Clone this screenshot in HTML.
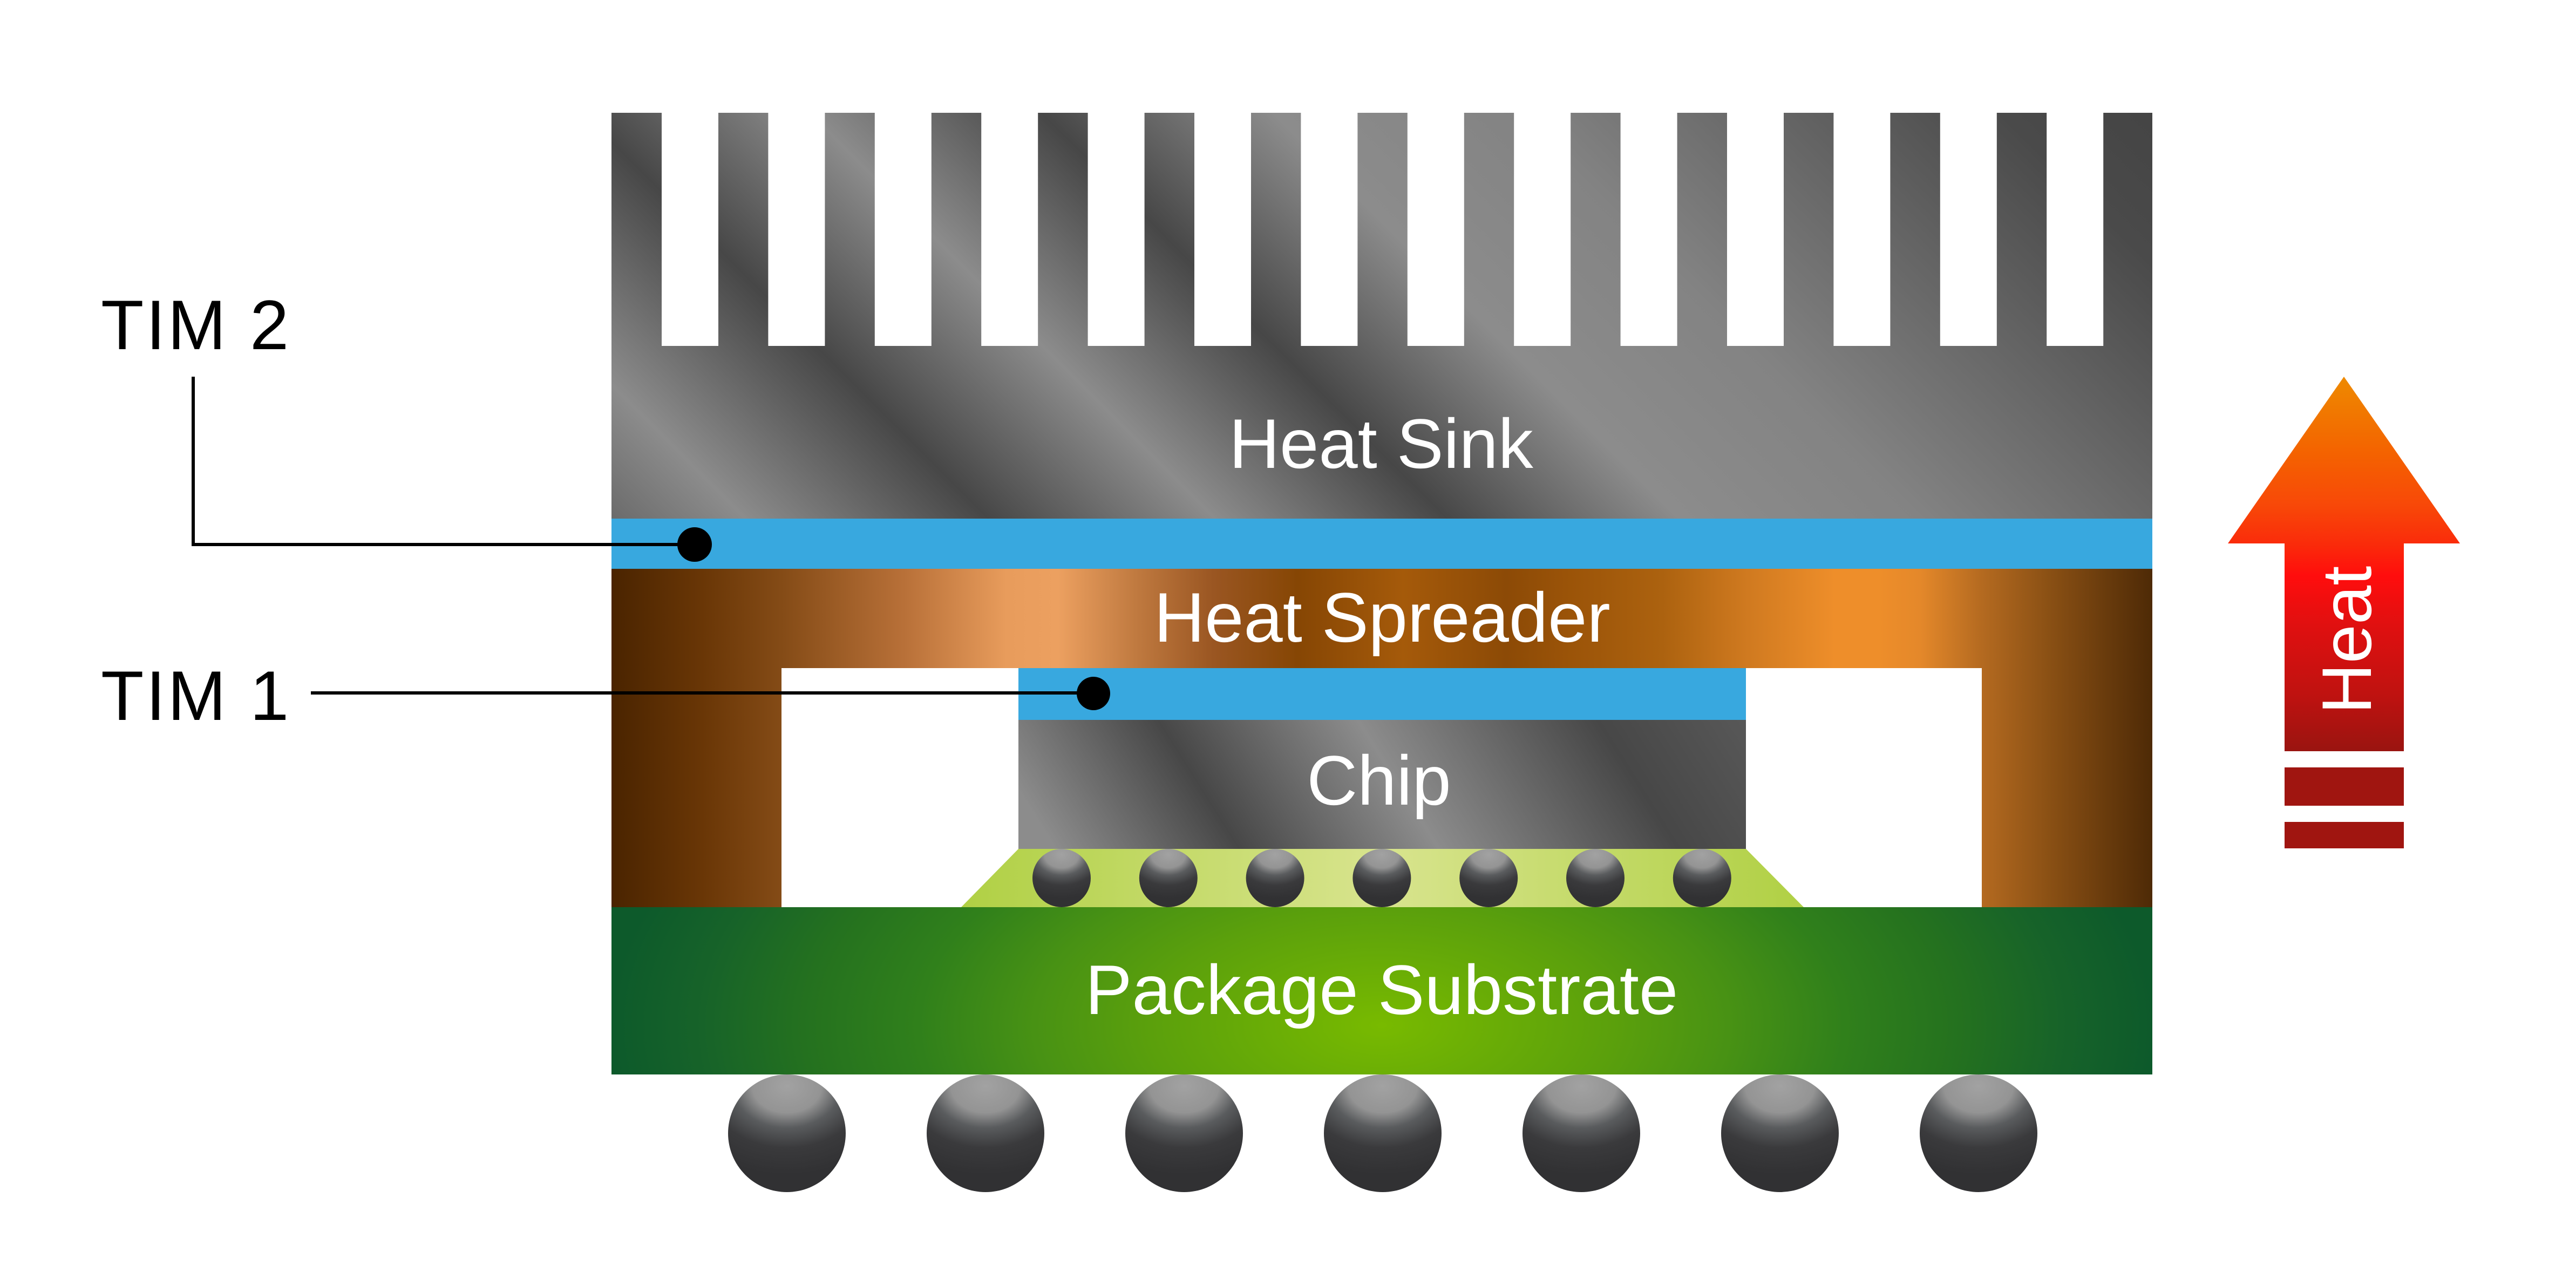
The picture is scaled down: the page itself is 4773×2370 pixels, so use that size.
<!DOCTYPE html>
<html>
<head>
<meta charset="utf-8">
<style>
html,body{margin:0;padding:0;background:#fff;width:4773px;height:2370px;overflow:hidden}
svg{display:block}
text{font-family:"Liberation Sans",Arial,sans-serif}
</style>
</head>
<body>
<svg width="4773" height="2370" viewBox="0 0 4773 2370" xmlns="http://www.w3.org/2000/svg">
<defs>
  <linearGradient id="hs" gradientUnits="userSpaceOnUse" x1="-100" y1="0" x2="1850" y2="-1950">
    <stop offset="0" stop-color="#474747"/>
    <stop offset="0.1333" stop-color="#8c8c8c"/>
    <stop offset="0.2487" stop-color="#474747"/>
    <stop offset="0.3564" stop-color="#8c8c8c"/>
    <stop offset="0.4667" stop-color="#474747"/>
    <stop offset="0.5769" stop-color="#8c8c8c"/>
    <stop offset="0.6923" stop-color="#838383"/>
    <stop offset="0.7949" stop-color="#6a6a6a"/>
    <stop offset="0.9231" stop-color="#4a4a4a"/>
    <stop offset="1" stop-color="#444444"/>
  </linearGradient>
  <linearGradient id="chip" gradientUnits="userSpaceOnUse" x1="900" y1="0" x2="2045.4" y2="-721.6">
    <stop offset="0" stop-color="#8c8c8c"/>
    <stop offset="0.04" stop-color="#8c8c8c"/>
    <stop offset="0.253" stop-color="#474747"/>
    <stop offset="0.484" stop-color="#8c8c8c"/>
    <stop offset="0.761" stop-color="#474747"/>
    <stop offset="1" stop-color="#5e5e5e"/>
  </linearGradient>
  <linearGradient id="sp" gradientUnits="userSpaceOnUse" x1="1133" y1="0" x2="3988" y2="0">
    <stop offset="0" stop-color="#4a2400"/>
    <stop offset="0.0585" stop-color="#693606"/>
    <stop offset="0.110" stop-color="#844b16"/>
    <stop offset="0.1895" stop-color="#b87038"/>
    <stop offset="0.2564" stop-color="#e89c5c"/>
    <stop offset="0.290" stop-color="#eca060"/>
    <stop offset="0.340" stop-color="#c07a40"/>
    <stop offset="0.3905" stop-color="#9a5622"/>
    <stop offset="0.4452" stop-color="#864604"/>
    <stop offset="0.5138" stop-color="#a55a0a"/>
    <stop offset="0.5807" stop-color="#8c4a06"/>
    <stop offset="0.619" stop-color="#9a5308"/>
    <stop offset="0.682" stop-color="#ac620f"/>
    <stop offset="0.7377" stop-color="#d07a20"/>
    <stop offset="0.794" stop-color="#ee8e2a"/>
    <stop offset="0.8214" stop-color="#ee8e2a"/>
    <stop offset="0.8494" stop-color="#e4882a"/>
    <stop offset="0.8893" stop-color="#b46a20"/>
    <stop offset="0.9331" stop-color="#8a5014"/>
    <stop offset="1" stop-color="#4e2a06"/>
  </linearGradient>
  <radialGradient id="sub" gradientUnits="userSpaceOnUse" cx="2560" cy="1900" r="1430" gradientTransform="translate(0,950) scale(1,0.5)">
    <stop offset="0" stop-color="#78ba00"/>
    <stop offset="0.3" stop-color="#5ba00c"/>
    <stop offset="0.45" stop-color="#489214"/>
    <stop offset="0.6" stop-color="#30801b"/>
    <stop offset="0.75" stop-color="#24711f"/>
    <stop offset="0.88" stop-color="#176329"/>
    <stop offset="1" stop-color="#0d5a2b"/>
  </radialGradient>
  <linearGradient id="uf" gradientUnits="userSpaceOnUse" x1="1781" y1="0" x2="3342" y2="0">
    <stop offset="0" stop-color="#b0d044"/>
    <stop offset="0.5" stop-color="#d8e48e"/>
    <stop offset="1" stop-color="#b0d044"/>
  </linearGradient>
  <radialGradient id="ball" cx="0.5" cy="0.1" r="0.75" fx="0.5" fy="0.1" gradientTransform="translate(0.5 0.1) scale(1.3 1) translate(-0.5 -0.1)">
    <stop offset="0" stop-color="#a2a2a2"/>
    <stop offset="0.3" stop-color="#949494"/>
    <stop offset="0.47" stop-color="#5a5c5e"/>
    <stop offset="0.7" stop-color="#3a3a3c"/>
    <stop offset="1" stop-color="#313133"/>
  </radialGradient>
  <linearGradient id="arr" gradientUnits="userSpaceOnUse" x1="0" y1="698" x2="0" y2="1392">
    <stop offset="0" stop-color="#ee8a00"/>
    <stop offset="0.206" stop-color="#f46200"/>
    <stop offset="0.344" stop-color="#f84808"/>
    <stop offset="0.444" stop-color="#fa2c0a"/>
    <stop offset="0.532" stop-color="#ff0d0d"/>
    <stop offset="0.664" stop-color="#e01010"/>
    <stop offset="0.85" stop-color="#bf1210"/>
    <stop offset="1" stop-color="#9a1410"/>
  </linearGradient>
</defs>

<!-- Heat sink -->
<rect x="1133" y="209" width="2855" height="752" fill="url(#hs)"/>
<g fill="#ffffff">
  <rect x="1226" y="200" width="105" height="441"/>
  <rect x="1423.4" y="200" width="105" height="441"/>
  <rect x="1620.8" y="200" width="105" height="441"/>
  <rect x="1818.2" y="200" width="105" height="441"/>
  <rect x="2015.6" y="200" width="105" height="441"/>
  <rect x="2213" y="200" width="105" height="441"/>
  <rect x="2410.4" y="200" width="105" height="441"/>
  <rect x="2607.8" y="200" width="105" height="441"/>
  <rect x="2805.2" y="200" width="105" height="441"/>
  <rect x="3002.6" y="200" width="105" height="441"/>
  <rect x="3200" y="200" width="105" height="441"/>
  <rect x="3397.4" y="200" width="105" height="441"/>
  <rect x="3594.8" y="200" width="105" height="441"/>
  <rect x="3792.2" y="200" width="105" height="441"/>
</g>

<!-- TIM2 -->
<rect x="1133" y="961" width="2855" height="93" fill="#38a8df"/>

<!-- Heat spreader -->
<rect x="1133" y="1054" width="2855" height="627" fill="url(#sp)"/>
<rect x="1448" y="1238" width="2224" height="443" fill="#ffffff"/>

<!-- TIM1 -->
<rect x="1887" y="1238" width="1348" height="96" fill="#38a8df"/>
<!-- Chip -->
<rect x="1887" y="1334" width="1348" height="239" fill="url(#chip)"/>

<!-- Underfill -->
<polygon points="1887,1573 3235,1573 3342,1681 1781,1681" fill="url(#uf)"/>

<!-- Bumps -->
<g fill="url(#ball)">
  <circle cx="1967" cy="1627" r="54"/>
  <circle cx="2164.8" cy="1627" r="54"/>
  <circle cx="2362.6" cy="1627" r="54"/>
  <circle cx="2560.4" cy="1627" r="54"/>
  <circle cx="2758.2" cy="1627" r="54"/>
  <circle cx="2956" cy="1627" r="54"/>
  <circle cx="3153.8" cy="1627" r="54"/>
</g>

<!-- Substrate -->
<rect x="1133" y="1681" width="2855" height="310" fill="url(#sub)"/>

<!-- Balls -->
<g fill="url(#ball)">
  <circle cx="1458" cy="2100" r="109"/>
  <circle cx="1826" cy="2100" r="109"/>
  <circle cx="2194" cy="2100" r="109"/>
  <circle cx="2562" cy="2100" r="109"/>
  <circle cx="2930" cy="2100" r="109"/>
  <circle cx="3298" cy="2100" r="109"/>
  <circle cx="3666" cy="2100" r="109"/>
</g>

<!-- Layer labels -->
<g fill="#ffffff" font-size="130" text-anchor="middle">
  <text x="2559" y="867">Heat Sink</text>
  <text x="2561" y="1189">Heat Spreader</text>
  <text x="2555" y="1491">Chip</text>
  <text x="2560" y="1879">Package Substrate</text>
</g>

<!-- Callouts -->
<polyline points="358,698 358,1009 1287,1009" fill="none" stroke="#000" stroke-width="6"/>
<circle cx="1287" cy="1009" r="32" fill="#000"/>
<line x1="576" y1="1284" x2="2026" y2="1284" stroke="#000" stroke-width="6"/>
<circle cx="2026" cy="1285" r="31" fill="#000"/>
<g fill="#000" font-size="130" letter-spacing="4">
  <text x="187" y="647">TIM 2</text>
  <text x="187" y="1334">TIM 1</text>
</g>

<!-- Heat arrow -->
<polygon points="4343,698 4558,1007 4454,1007 4454,1392 4233,1392 4233,1007 4128,1007" fill="url(#arr)"/>
<rect x="4233" y="1422" width="221" height="71" fill="#a01510"/>
<rect x="4233" y="1523" width="221" height="49" fill="#a01510"/>
<text transform="translate(4393,1186) rotate(-90)" text-anchor="middle" fill="#ffffff" font-size="130">Heat</text>
</svg>
</body>
</html>
